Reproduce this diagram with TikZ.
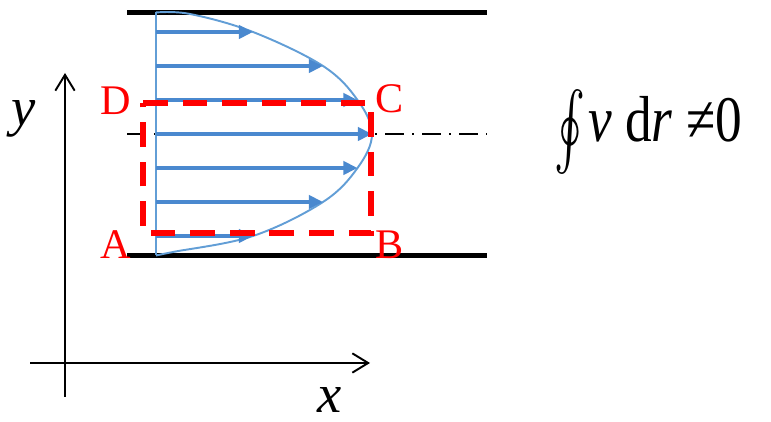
\documentclass[tikz,border=0pt]{standalone}
\usepackage{exscale}
\usepackage{fontspec}
\setmainfont{Liberation Serif}[ItalicFont={Liberation Serif Italic}]
\usepackage{graphicx}
\usetikzlibrary{arrows.meta}
\definecolor{modra}{RGB}{74,137,207}
\definecolor{svetlemodra}{RGB}{98,158,214}
\tikzset{
  stena/.style={line width=2.3pt,black},
  osa/.style={line width=1.1pt,-{Straight Barb[length=9pt,width=11pt]}},
  rychlost/.style={line width=2pt,modra,-{Triangle[length=8pt,width=7.5pt]}},
  obrys/.style={line width=3.1pt,red,dash pattern=on 14pt off 8.5pt},
  popis/.style={red,inner sep=0pt,font=\fontsize{24}{24}\selectfont}
}
\begin{document}
\begin{tikzpicture}
  \useasboundingbox (0,0) rectangle (15.42,8.44);
  % stěny kanálu a osa
  \draw[stena] (2.54,8.19) -- (9.74,8.19);
  \draw[stena] (2.54,3.33) -- (9.74,3.33);
  \draw[line width=1.1pt,dash pattern=on 10.8pt off 4.5pt on 1.2pt off 4.5pt] (2.54,5.76) -- (9.74,5.76);
  % rychlostní profil
  \draw[line width=1.2pt,svetlemodra] (3.12,8.19) -- (3.12,3.33);
  \draw[line width=1.1pt,svetlemodra] plot[smooth,tension=0.6] coordinates {(3.12,8.19) (3.80,8.16) (5.06,7.80) (6.46,7.12) (7.15,6.44) (7.44,5.76) (7.15,5.08) (6.46,4.40) (5.06,3.72) (3.46,3.40) (3.12,3.33)};
  \foreach \k/\len in {-3/5.06,-2/6.46,-1/7.15,0/7.44,1/7.15,2/6.46,3/5.06} {
    \coordinate (p\k) at (3.12,5.76+0.68*\k);
    \coordinate (q\k) at (\len,5.76+0.68*\k);
    \draw[rychlost] (p\k) -- (q\k);
  }
  % obdélník ABCD
  \coordinate (A) at (2.86,3.78);
  \coordinate (B) at (7.42,3.78);
  \coordinate (C) at (7.42,6.38);
  \coordinate (D) at (2.86,6.38);
  \draw[obrys] (D) -- (C) -- (B) -- (A) -- cycle;
  \node[popis] (lA) at (2.32,3.54) {A};
  \node[popis] (lB) at (7.80,3.54) {B};
  \node[popis] (lC) at (7.80,6.46) {C};
  \node[popis] (lD) at (2.32,6.42) {D};
  % souřadnice
  \coordinate (y0) at (1.30,0.50);
  \coordinate (y1) at (1.30,6.98);
  \coordinate (x0) at (0.60,1.18);
  \coordinate (x1) at (7.40,1.18);
  \draw[osa] (y0) -- (y1);
  \draw[osa] (x0) -- (x1);
  \node[inner sep=0pt,font=\fontsize{31}{31}\selectfont] (ly) at (0.48,6.06) {\textit{y}};
  \node[inner sep=0pt,font=\fontsize{31}{31}\selectfont] (lx) at (6.60,0.44) {\textit{x}};
  % cirkulace
  \node[anchor=base west,inner sep=0pt,font=\fontsize{37}{37}\selectfont] (cirk) at (11.08,5.60)
    {\scalebox{0.82}[1]{\raisebox{-5pt}{\scalebox{1.3}[1.75]{$\oint$}}\hspace{2pt}\textit{v} d\textit{r} ≠0}};
\end{tikzpicture}
\end{document}
